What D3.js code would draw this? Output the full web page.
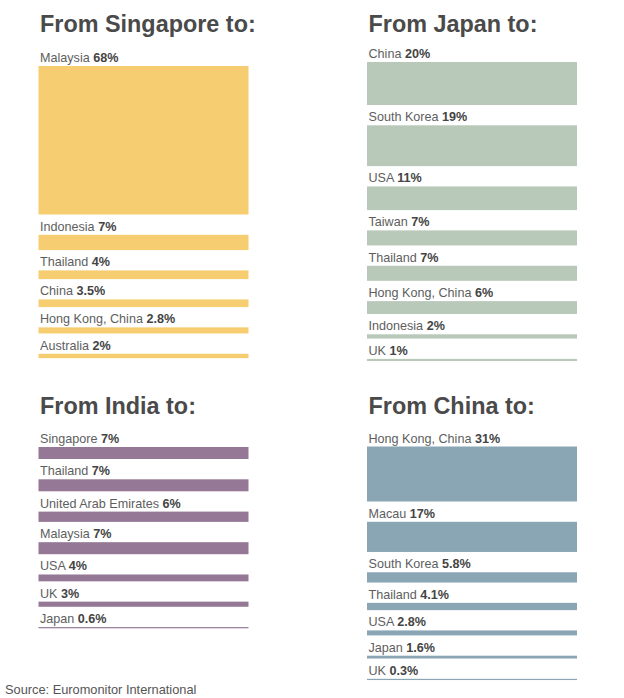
<!DOCTYPE html>
<html>
<head>
<meta charset="utf-8">
<script src="https://cdn.jsdelivr.net/npm/d3@7"></script>
<style>
  html, body { margin: 0; padding: 0; background: #fff; }
  svg { display: block; font-family: "Liberation Sans", Arial, Helvetica, sans-serif; }
</style>
</head>
<body>
<svg id="chart" width="624" height="698"></svg>
<script>
// ---- Data ----
const titles = ["From Singapore to:", "From Japan to:", "From India to:", "From China to:"];

const singaporeDest = ["Malaysia", "Indonesia", "Thailand", "China", "Hong Kong, China", "Australia"];
const singaporeVals = [68, 7, 4, 3.5, 2.8, 2];
const singaporeLbls = ["68%", "7%", "4%", "3.5%", "2.8%", "2%"];

const japanDest = ["China", "South Korea", "USA", "Taiwan", "Thailand", "Hong Kong, China", "Indonesia", "UK"];
const japanVals = [20, 19, 11, 7, 7, 6, 2, 1];
const japanLbls = ["20%", "19%", "11%", "7%", "7%", "6%", "2%", "1%"];

const indiaDest = ["Singapore", "Thailand", "United Arab Emirates", "Malaysia", "USA", "UK", "Japan"];
const indiaVals = [7, 7, 6, 7, 4, 3, 0.6];
const indiaLbls = ["7%", "7%", "6%", "7%", "4%", "3%", "0.6%"];

const chinaDest = ["Hong Kong, China", "Macau", "South Korea", "Thailand", "USA", "Japan", "UK"];
const chinaVals = [31, 17, 5.8, 4.1, 2.8, 1.6, 0.3];
const chinaLbls = ["31%", "17%", "5.8%", "4.1%", "2.8%", "1.6%", "0.3%"];

const colors = ["#f6cd70", "#b8c9ba", "#957896", "#8aa6b4"];
const source = "Source: Euromonitor International";

// ---- Layout ----
const panels = [
  { dest: singaporeDest, vals: singaporeVals, lbls: singaporeLbls, x: 38.5, titleY: 32, barTop: 66, maxH: 148.5 },
  { dest: japanDest, vals: japanVals, lbls: japanLbls, x: 367, titleY: 32, barTop: 62, maxH: 43 },
  { dest: indiaDest, vals: indiaVals, lbls: indiaLbls, x: 38.5, titleY: 413.5, barTop: 447, maxH: 12 },
  { dest: chinaDest, vals: chinaVals, lbls: chinaLbls, x: 367, titleY: 414, barTop: 446.5, maxH: 55 }
];
const barW = 210;
const gap = 20.3;

const svg = d3.select("#chart");

panels.forEach((p, pi) => {
  const g = svg.append("g");
  const h = d3.scaleLinear().domain([0, d3.max(p.vals)]).range([0, p.maxH]);
  const x = d3.scaleLinear().domain([0, 1]).range([p.x, p.x + barW]);

  g.append("text")
    .attr("x", p.x + 1.5)
    .attr("y", p.titleY)
    .attr("font-size", 23.4)
    .attr("font-weight", "bold")
    .attr("fill", "#4a4a4a")
    .text(titles[pi]);

  let y = p.barTop;
  const rows = p.vals.map((v, i) => {
    const hh = Math.max(1.2, h(v));
    const r = { name: p.dest[i], lbl: p.lbls[i], y: y, h: hh };
    y += hh + gap;
    return r;
  });

  g.selectAll("rect").data(rows).enter().append("rect")
    .attr("x", x(0))
    .attr("y", d => d.y)
    .attr("width", x(1) - x(0))
    .attr("height", d => d.h)
    .attr("fill", colors[pi]);

  const t = g.selectAll("text.lbl").data(rows).enter().append("text")
    .attr("class", "lbl")
    .attr("x", x(0) + 1.5)
    .attr("y", d => d.y - 4)
    .attr("font-size", 12.6)
    .attr("fill", "#5e5e5e");
  t.append("tspan").text(d => d.name + " ");
  t.append("tspan").attr("font-weight", "bold").attr("fill", "#444").text(d => d.lbl);
});

svg.append("text")
  .attr("x", 5)
  .attr("y", 694)
  .attr("font-size", 12.8)
  .attr("fill", "#555")
  .text(source);
</script>
</body>
</html>
